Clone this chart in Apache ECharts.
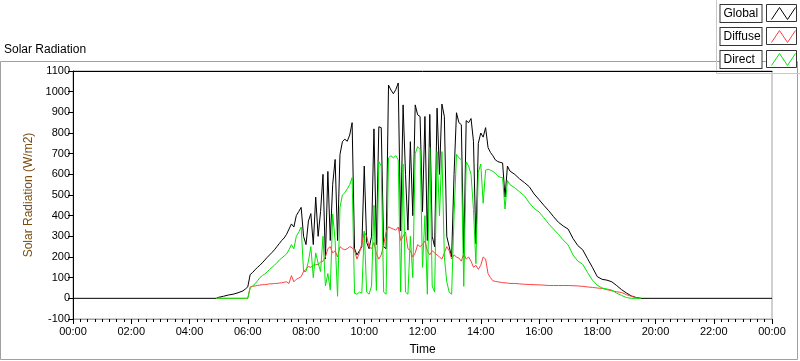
<!DOCTYPE html>
<html>
<head>
<meta charset="utf-8">
<title>Solar Radiation</title>
<script src="https://cdn.jsdelivr.net/npm/echarts@6/dist/echarts.min.js"></script>
<style>
	html, body { margin: 0; padding: 0; background: #fff; }
	#main { width: 800px; height: 361px; }
</style>
</head>
<body>
<div id="main"></div>
<script>
// sample times of the day (HH:MM), 5 min in the busy part, 10 min in the calm parts
var times = [
	"00:00",
	"04:55",
	"05:00", "05:10", "05:20", "05:30", "05:40", "05:50", "05:55",
	"06:00", "06:05", "06:10", "06:15", "06:20", "06:25", "06:30", "06:35", "06:40", "06:45", "06:50", "06:55",
	"07:00", "07:05", "07:10", "07:15", "07:20", "07:25", "07:30", "07:35", "07:40", "07:45", "07:50", "07:55",
	"08:00", "08:05", "08:10", "08:15", "08:20", "08:25", "08:30", "08:35", "08:40", "08:45", "08:50", "08:55",
	"09:00", "09:05", "09:10", "09:15", "09:20", "09:25", "09:30", "09:35", "09:40", "09:45", "09:50", "09:55",
	"10:00", "10:05", "10:10", "10:15", "10:20", "10:25", "10:30", "10:35", "10:40", "10:45", "10:50", "10:55",
	"11:00", "11:05", "11:10", "11:15", "11:20", "11:25", "11:30", "11:35", "11:40", "11:45", "11:50", "11:55",
	"12:00", "12:05", "12:10", "12:15", "12:20", "12:25", "12:30", "12:35", "12:40", "12:45", "12:50", "12:55",
	"13:00", "13:05", "13:10", "13:15", "13:20", "13:25", "13:30", "13:35", "13:40", "13:45", "13:50", "13:55",
	"14:00", "14:05", "14:10", "14:15", "14:20", "14:25", "14:30", "14:35", "14:40", "14:45", "14:50", "14:55",
	"15:00", "15:10", "15:20", "15:30", "15:40", "15:50",
	"16:00", "16:10", "16:20", "16:30", "16:40", "16:50",
	"17:00", "17:10", "17:20", "17:30", "17:40", "17:50",
	"18:00", "18:10", "18:20", "18:30", "18:40", "18:50",
	"19:00", "19:10", "19:20", "19:30",
	"24:00"
];

var globalRad = [
	0,
	0,
	5, 10, 16, 20, 27, 36, 45,
	55, 115, 125, 138, 150, 160, 172, 185, 198, 210, 222, 235,
	250, 265, 280, 292, 310, 335, 360, 345, 400, 420, 440, 300,
	260, 374, 410, 260, 490, 300, 420, 600, 190, 614, 280, 552,
	672, 280, 696, 758, 770, 760, 790, 850, 240, 210, 230, 250,
	640, 270, 240, 300, 820, 260, 830, 826, 250, 240, 1032, 1008,
	990, 1010, 1042, 326, 936, 600, 330, 758, 400, 936, 888, 880,
	420, 880, 280, 890, 300, 250, 920, 600, 940, 880, 300, 250,
	200, 600, 898, 850, 840, 200, 860, 850, 870, 760, 264, 750,
	800, 780, 826, 730, 706, 690, 670, 662, 658, 655, 490, 640,
	616, 600, 578, 560, 540, 505,
	478, 450, 424, 395, 368, 350,
	335, 290, 255, 235, 192, 150,
	105, 92, 88, 80, 62, 42,
	26, 12, 4, 0,
	0
];

var diffuseRad = [
	null,
	0,
	0, 0, 0, 0, 0, 0, 0,
	0, 55, 58, 60, 62, 64, 66, 66, 68, 70, 70, 72,
	72, 74, 75, 78, 80, 72, 110, 80, 92, 98, 105, 130,
	140, 154, 150, 160, 162, 165, 175, 180, 200, 240, 250, 220,
	230, 200, 250, 240, 235, 240, 250, 245, 230, 190, 220, 264,
	320, 300, 250, 240, 270, 216, 190, 210, 260, 320, 346, 340,
	335, 330, 345, 280, 300, 320, 240, 230, 200, 220, 260, 250,
	260, 278, 230, 210, 230, 220, 210, 200, 190, 220, 250, 230,
	190, 210, 200, 195, 180, 216, 190, 200, 180, 150, 160, 140,
	160, 200, 190, 120, 100, 85, 82, 80, 78, 76, 75, 74,
	72, 72, 70, 68, 67, 66,
	65, 64, 62, 62, 62, 62,
	62, 61, 60, 58, 55, 53,
	50, 48, 42, 36, 32, 28,
	18, 10, 3, 0,
	null
];

var directRad = [
	null,
	0,
	0, 0, 0, 0, 0, 0, 0,
	0, 50, 60, 70, 85, 100, 110, 118, 128, 140, 150, 160,
	172, 185, 195, 205, 215, 235, 260, 240, 300, 320, 345, 130,
	130, 180, 250, 100, 220, 170, 130, 300, 60, 120, 40, 408,
	280, 10, 440, 500, 510, 530, 550, 584, 24, 20, 30, 25,
	326, 30, 20, 60, 450, 38, 662, 640, 30, 20, 680, 690,
	680, 690, 670, 30, 650, 30, 20, 300, 100, 700, 734, 720,
	150, 400, 20, 730, 60, 30, 710, 400, 710, 200, 80, 30,
	20, 400, 696, 680, 670, 58, 660, 640, 600, 430, 168, 610,
	650, 460, 620, 625, 620, 614, 605, 592, 586, 584, 432, 570,
	550, 535, 515, 496, 462, 435,
	418, 390, 360, 335, 310, 282,
	258, 210, 180, 165, 125, 88,
	64, 50, 45, 40, 25, 14,
	4, 0, 0, 0,
	null
];

var seriesNames = ["Global", "Diffuse", "Direct"];
var seriesColors = ["#000000", "#ff4040", "#00e600"];

function toMinutes(t) {
	var p = t.split(":");
	return parseInt(p[0], 10) * 60 + parseInt(p[1], 10);
}

function pad(n) {
	return (n < 10 ? "0" : "") + n;
}

function pairs(values) {
	return times.map(function(t, i) {
		return [toMinutes(t), values[i]];
	});
}

var font = "Liberation Sans";
var chart = echarts.init(document.getElementById("main"));

// swatch boxes behind the legend icons
var boxes = [];
for (var i = 0; i < 3; i++) {
	boxes.push({
		type: "rect",
		z: 1,
		shape: { x: 766.5, y: 4.5 + i * 23, width: 30, height: 17 },
		style: { fill: "#fff", stroke: "#333", lineWidth: 1 }
	});
}

chart.setOption({
	animation: false,
	backgroundColor: "#fff",
	title: {
		text: "Solar Radiation",
		left: 4,
		top: 44,
		padding: 0,
		textStyle: { fontFamily: font, fontSize: 12, fontWeight: "normal", color: "#000" }
	},
	legend: {
		orient: "vertical",
		right: 4,
		top: 4,
		padding: 0,
		align: "right",
		itemGap: 4,
		itemWidth: 34,
		itemHeight: 12,
		z: 10,
		selectedMode: false,
		icon: "path://M0,12 L8,0 L16,12 L24,0",
		formatter: function(name) {
			return "{b|" + name + "}";
		},
		textStyle: {
			fontFamily: font,
			fontSize: 12,
			color: "#000",
			rich: {
				b: {
					fontFamily: font,
					fontSize: 12,
					color: "#000",
					width: 35,
					height: 13,
					lineHeight: 13,
					align: "left",
					padding: [2, 3],
					borderColor: "#333",
					borderWidth: 1,
					backgroundColor: "#fff"
				}
			}
		},
		data: seriesNames.map(function(name, i) {
			return {
				name: name,
				itemStyle: { color: "rgba(0,0,0,0)", borderColor: seriesColors[i], borderWidth: 1 }
			};
		})
	},
	graphic: [
		{
			type: "rect",
			z: 0,
			shape: { x: 0.5, y: 61.5, width: 797, height: 298 },
			style: { fill: "none", stroke: "#a0a0a0", lineWidth: 1 }
		},
		{
			type: "polyline",
			z: 0,
			shape: { points: [[716.5, 0], [716.5, 73.5], [800, 73.5]] },
			style: { fill: "none", stroke: "#c8c8c8", lineWidth: 1 }
		}
	].concat(boxes),
	grid: {
		left: 73,
		right: 28,
		top: 71,
		bottom: 40,
		show: true,
		borderColor: "#a0a0a0",
		borderWidth: 1,
		backgroundColor: "#fff"
	},
	xAxis: [{
		type: "value",
		min: 0,
		max: 1440,
		interval: 120,
		position: "bottom",
		name: "Time",
		nameLocation: "middle",
		nameGap: 25,
		nameTextStyle: { fontFamily: font, fontSize: 12, color: "#000" },
		axisLine: { show: true, onZero: false, lineStyle: { color: "#a0a0a0", width: 1 } },
		axisTick: { show: true, length: 5, lineStyle: { color: "#000" } },
		minorTick: { show: true, splitNumber: 8, length: 3, lineStyle: { color: "#000" } },
		splitLine: { show: false },
		axisLabel: {
			margin: 7,
			fontFamily: font,
			fontSize: 11,
			color: "#000",
			formatter: function(v) {
				return pad(Math.floor(v / 60) % 24) + ":" + pad(v % 60);
			}
		}
	}, {
		type: "value",
		min: 0,
		max: 1440,
		position: "top",
		axisLine: { show: true, onZero: false, lineStyle: { color: "#000", width: 1 } },
		axisTick: { show: false },
		axisLabel: { show: false },
		splitLine: { show: false }
	}],
	yAxis: {
		type: "value",
		min: -100,
		max: 1100,
		interval: 100,
		name: "Solar Radiation (W/m2)",
		nameLocation: "middle",
		nameGap: 31,
		nameTextStyle: { fontFamily: font, fontSize: 12, color: "#7a4c10" },
		axisLine: { show: true, onZero: false, lineStyle: { color: "#000", width: 1 } },
		axisTick: { show: true, length: 5, lineStyle: { color: "#000" } },
		splitLine: { show: false },
		axisLabel: {
			margin: 3,
			fontFamily: font,
			fontSize: 11,
			color: "#000",
			formatter: function(v) {
				return String(v);
			}
		}
	},
	series: [globalRad, diffuseRad, directRad].map(function(values, i) {
		return {
			type: "line",
			name: seriesNames[i],
			xAxisIndex: 0,
			symbol: "none",
			connectNulls: false,
			itemStyle: { color: seriesColors[i] },
			lineStyle: { color: seriesColors[i], width: 1 },
			data: pairs(values)
		};
	})
});
</script>
</body>
</html>
